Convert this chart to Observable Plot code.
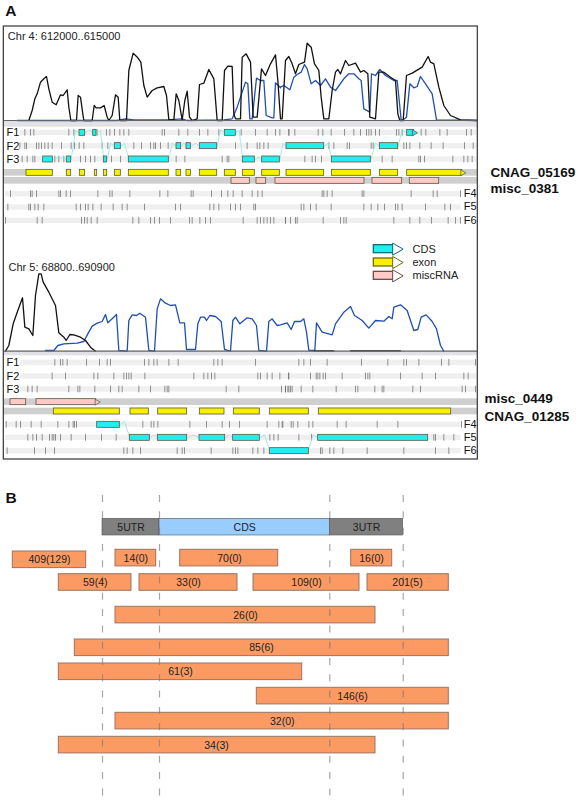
<!DOCTYPE html>
<html><head><meta charset="utf-8">
<script src="https://cdn.jsdelivr.net/npm/d3@7"></script>
<script src="https://cdn.jsdelivr.net/npm/@observablehq/plot@0.6"></script>
<style>html,body{margin:0;padding:0;background:#fff}svg{display:block}</style>
</head><body><div id="c"></div>
<script>
// Panel A positions are read in 1/3-pixel units; right = second half of the image (offset 840)
const R = a => a.map(v => v + 840);
const RP = a => a.map(([x, y]) => [x + 840, y]);
const LOW = a => a.map(([x, y]) => [x, y + 705]);

const chr4Black = [[85,360],[95,330],[103,295],[110,280],[120,245],[130,235],[138,228],[145,265],[155,305],[167,313],[180,283],[188,285],[200,268],[205,320],[211,360],[228,360],[233,285],[240,290],[247,340],[250,360],[275,360],[281,315],[287,322],[300,322],[311,315],[320,350],[325,360],[335,345],[345,283],[353,290],[358,360],[378,360],[385,210],[398,158],[412,172],[421,185],[430,255],[440,290],[455,270],[470,262],[490,258],[498,285],[505,358],[520,358],[527,280],[535,300],[545,358],[553,300],[560,272],[567,350],[575,360],[590,355],[597,252],[610,248],[625,207],[640,235],[650,360],[665,360],[672,210],[682,197],[695,198],[700,340],[705,355],[720,355],[725,170],[737,160],[750,185],[758,350],[770,350],[783,205],[795,225],[810,190],[825,163],[832,240],[840,355],
...RP([[5,355],[15,180],[25,168],[35,190],[45,220],[55,192],[72,185],[80,128],[92,140],[102,190],[115,210],[122,290],[130,355],[145,355],[155,270],[165,215],[172,207],[180,220],[195,180],[205,195],[225,188],[240,215],[250,210],[262,220],[268,350],[285,355],[295,215],[310,215],[330,230],[345,240],[352,340],[358,360],[368,360],[378,225],[395,218],[425,200],[443,168],[450,185],[460,190],[475,260],[490,315],[510,345],[540,358],[590,360]])];
const chr4Blue = [[50,360],[350,360],[375,355],[400,358],[420,358],[500,358],[545,355],[560,360],[670,358],[695,355],[710,320],[735,245],[742,250],[748,355],[755,355],[768,233],[780,240],[790,240],[797,345],[815,352],[820,352],[825,247],[840,262],
...RP([[0,260],[10,255],[28,268],[40,230],[50,222],[62,215],[72,192],[80,205],[92,250],[105,240],[120,255],[135,235],[150,260],[165,270],[190,235],[205,220],[220,220],[235,235],[242,240],[250,325],[268,335],[273,220],[285,225],[298,207],[315,225],[340,240],[350,240],[362,358],[368,358],[378,350],[388,250],[400,262],[410,258],[420,228],[435,250],[455,280],[468,358],[590,360]])];
const chr5Black = LOW([[15,347],[25,330],[38,265],[52,225],[66,187],[73,275],[85,280],[97,300],[105,180],[115,115],[122,115],[128,140],[145,170],[165,210],[175,292],[190,305],[197,315],[208,297],[220,298],[240,305],[255,315],[270,335],[285,347]]);
const chr5Blue = LOW([[135,345],[160,345],[172,330],[190,325],[230,323],[250,318],[262,295],[275,272],[290,263],[305,258],[315,237],[322,262],[335,250],[348,237],[355,345],[380,347],[385,255],[395,238],[408,240],[418,233],[435,245],[445,345],[462,347],[470,220],[480,190],[495,203],[510,210],[525,208],[538,262],[552,262],[558,342],[585,342],[592,265],[600,245],[612,245],[618,255],[628,240],[645,243],[662,258],[672,342],[690,347],[697,255],[705,245],[718,265],[740,247],[755,250],[768,270],[775,345],[798,347],[805,258],[815,250],[830,270],
...RP([[0,268],[20,262],[32,282],[42,258],[60,258],[70,250],[78,290],[85,345],[103,345],[108,262],[125,290],[155,298],[165,265],[190,230],[210,213],[222,240],[245,255],[265,278],[285,255],[310,257],[325,243],[335,250],[340,215],[360,208],[380,225],[395,270],[400,285],[412,282],[422,245],[437,238],[455,258],[468,280],[480,330],[490,347]])]);
const chr5BlackTail = LOW(RP([[100,346],[160,346]]));
const chr5BlackTail2 = LOW(RP([[210,346],[360,346]]));

// Reading-frame ticks, one list per row
const a1 = [73,90,100,205,220,290,318,328,342,358,370,385,485,492,535,562,597,622,655,722,765,800,825,838,865,...R([25,43,113,127,152,192,220,240,258,265,272,285,297,348,355,365,422,436,478,500,558,572])];
const a2 = [58,73,78,108,115,123,133,143,155,183,212,222,236,250,305,322,400,423,450,460,465,480,503,705,740,770,778,790,803,...R([145,160,200,207,272,278,370,378,388,418,452,488,552,578])];
const a3 = [65,80,97,103,163,175,190,240,255,270,283,333,360,527,553,665,680,685,...R([73,95,105,123,305,335,415,420,432,517,550,562,575])];
const a4 = [30,90,95,108,175,180,197,210,292,328,335,388,478,502,572,578,633,663,682,698,725,755,772,785,...R([125,130,140,155,245,250,392,458,470,540])];
const a5 = [22,85,90,103,113,130,227,240,255,263,277,302,338,365,380,432,525,540,628,640,655,690,705,720,760,765,...R([62,70,90,107,152,250,272,292,312,345,352,365,435,493,510])];
const a6 = [15,110,125,243,252,260,272,290,397,415,450,462,477,510,567,575,598,615,630,728,770,780,790,800,810,820,855,...R([15,30,45,50,128,180,190,197,340,388,418,453,503,525,540])];
const b1 = [163,180,187,200,258,297,320,330,432,445,460,470,505,533,640,652,665,765,...R([55,70,90,140,243,322,370,378,415,483,505,585])];
const b2 = [155,195,280,292,340,370,378,385,392,433,580,610,622,633,643,772,780,800,815,838,865,...R([24,90,107,112,118,128,135,185,255,262,268,360,425,465,550,563])];
const b3 = [82,95,110,205,232,238,283,330,355,365,415,450,493,500,505,677,715,843,855,865,...R([15,22,30,35,62,97,167,225,232,283,305,310,397,420,545,555,585])];
const b4 = [17,47,60,92,122,172,205,218,222,228,427,452,460,472,568,618,665,687,717,800,835,847,...R([5,32,38,52,85,97,170,197,290,352,543])];
const b5 = [82,97,108,125,147,155,160,165,180,212,255,303,347,808,820,833,...R([55,93,460,465,490,520])];
const b6 = [20,102,135,162,370,380,397,420,530,545,552,632,697,705,712,757,772,790,...R([120,125,148,160,187,260,370,465,505])];

// Row centres
const rowsA = [["F1",397,a1,60,1430],["F2",437,a2,60,1430],["F3",477,a3,60,1430],["F4",581,a4,15,1382],["F5",621,a5,15,1382],["F6",661,a6,15,1382]];
const rowsB = [["F1",1087,b1,60,1430],["F2",1128,b2,60,1430],["F3",1167,b3,60,1430],["F4",1273,b4,15,1382],["F5",1312,b5,15,1382],["F6",1352,b6,15,1382]];

// Features
const exonA = [[78,157],[199,212],[238,254],[283,290],[310,320],[343,361],[385,505],[528,542],[558,571],[598,650],[673,706],[727,763],[785,838],[858,971],[994,1111],[1138,1193],[1220,1385]];
const miscA = [[693,748],[768,797],[825,1092],[1116,1205],[1228,1316]];
const cdsA = [[237,254,397],[278,288,397],[673,706,397],[1220,1240,397],[343,361,437],[528,542,437],[558,571,437],[598,650,437],[858,971,437],[1138,1193,437],[128,157,477],[199,212,477],[310,320,477],[385,505,477],[727,763,477],[785,838,477],[994,1111,477]];
const linksA = [[[157,477],[175,470],[199,477]],[[212,477],[225,390],[237,397]],[[254,397],[265,388],[278,397]],[[288,397],[300,390],[310,477]],[[320,477],[330,428],[343,437]],[[361,437],[372,428],[385,477]],[[505,477],[515,428],[528,437]],[[542,437],[550,428],[558,437]],[[571,437],[585,428],[598,437]],[[650,437],[660,388],[673,397]],[[706,397],[716,390],[727,477]],[[763,477],[775,470],[785,477]],[[838,477],[848,428],[858,437]],[[971,437],[983,428],[994,477]],[[1111,477],[1125,428],[1138,437]],[[1193,437],[1205,388],[1220,397]]];
const miscB = [[30,77],[108,287]];
const exonB = [[160,358],[390,445],[473,560],[598,672],[700,778],[808,925],[955,1352]];
const cdsB = [[290,358,1273],[388,448,1312],[472,560,1312],[597,674,1312],[698,778,1312],[953,1283,1312],[808,925,1352]];
const linksB = [[[358,1273],[372,1263],[388,1312]],[[448,1312],[460,1303],[472,1312]],[[560,1312],[578,1303],[597,1312]],[[674,1312],[686,1303],[698,1312]],[[778,1312],[792,1303],[808,1352]],[[925,1345],[938,1303],[953,1312]]];

// Legend
const legendNames = ["CDS","exon","miscRNA"];
const legendFill = ["#22eef0","#f7f000","#ffc9c5"];
const legendStroke = ["#0a6e72","#6f6c10","#6b4a48"];
const legendRows = [746,786,826];

const labelsA = [["CNAG_05169",516],["misc_0381",566]];
const labelsB = [["misc_0449",1195],["CNAG_01285",1248]];

const font = "'Liberation Sans', Arial, sans-serif";
const grey = "#cfcfcf";
const hw = 10;
const tickMarks = rows => Plot.ruleX(rows.flatMap(([n,y,ticks]) => ticks.map(x => ({x,y}))), {x:"x", y1:d=>d.y-hw, y2:d=>d.y+hw, stroke:"#666", strokeWidth:0.9, strokeOpacity:0.8});
const bandMarks = rows => Plot.rect(rows, {x1:d=>d[3], x2:d=>d[4], y1:d=>d[1]-hw+2, y2:d=>d[1]+hw-2, fill:"#efefef"});
const features = (list, y, fill) => Plot.rect(list, {x1:d=>d[0], x2:d=>d[1], y1:d=>(d[2]??y)-9, y2:d=>(d[2]??y)+9, fill, stroke:"#5a5a40", strokeWidth:0.8});
const links = list => Plot.line(list.flatMap((pts,i)=>pts.map(p=>({x:p[0],y:p[1],i}))), {x:"x", y:"y", z:"i", stroke:"#8fe6e6", strokeWidth:0.8});
const trace = (pts, stroke) => Plot.line(pts, {x:d=>d[0], y:d=>d[1], stroke, strokeWidth:1.3});

const panelA = Plot.plot({
  width:579, height:485, margin:0,
  x:{domain:[0,1737], range:[0,579], axis:null},
  y:{domain:[0,1455], range:[0,485], axis:null},
  style:{fontFamily:font, background:"#fff"},
  marks:[
    Plot.rect([[360,380],[1052,1066]], {x1:10, x2:1432, y1:d=>d[0], y2:d=>d[1], fill:"#e2e2e6"}),
    bandMarks(rowsA), bandMarks(rowsB),
    // feature rows
    Plot.rect([[507,527],[531,551],[1195,1215],[1223,1243]], {x1:10, x2:1432, y1:d=>d[0], y2:d=>d[1], fill:grey}),
    Plot.rect([[78,1385,507,527],[160,1352,1223,1243]], {x1:d=>d[0], x2:d=>d[1], y1:d=>d[2], y2:d=>d[3], fill:"#fff"}),
    tickMarks(rowsA), tickMarks(rowsB),
    links(linksA), links(linksB),
    features(cdsA, 0, "#22eef0"), features(cdsB, 0, "#22eef0"),
    features(exonA, 517, "#f7f000"), features(exonB, 1233, "#f7f000"),
    features(miscA, 541, "#ffc9c5"), features(miscB, 1205, "#ffc9c5"),
    Plot.dot([[1386,517],[289,1205],[1241,397]], {x:d=>d[0], y:d=>d[1], symbol:"triangle", rotate:90, r:2.2, fill:d=>d[0]===1241?"#22eef0":d[0]===289?"#ffc9c5":"#f7f000", stroke:"#555", strokeWidth:0.7}),
    // coverage traces
    trace(chr4Blue, "#1f4fb0"), trace(chr4Black, "#111"),
    trace(chr5Blue, "#1f4fb0"), trace(chr5Black, "#111"),
    trace(chr5BlackTail, "#111"), trace(chr5BlackTail2, "#111"),
    Plot.ruleY([360,1052], {x1:10, x2:1432, stroke:"#666", strokeWidth:1.1}),
    // frame
    Plot.rect([[10,1432,78,1377]], {x1:d=>d[0], x2:d=>d[1], y1:d=>d[2], y2:d=>d[3], fill:"none", stroke:"#444", strokeWidth:1.3}),
    // legend
    Plot.rect(legendNames, {x1:1120, x2:1180, y1:(d,i)=>legendRows[i]-12, y2:(d,i)=>legendRows[i]+12, fill:(d,i)=>legendFill[i], stroke:(d,i)=>legendStroke[i], strokeWidth:1.3}),
    Plot.dot(legendNames, {x:1187, y:(d,i)=>legendRows[i], symbol:"triangle", rotate:90, r:4.5, fill:"#fff", stroke:(d,i)=>legendStroke[i], strokeWidth:1}),
    Plot.text(legendNames, {x:1236, y:(d,i)=>legendRows[i], text:d=>d, textAnchor:"start", fontSize:11, fill:"#222"}),
    // texts
    Plot.text(["A"], {x:14, y:31, text:d=>d, textAnchor:"start", fontSize:15.5, fontWeight:"bold", fill:"#111"}),
    Plot.text(["Chr 4: 612000..615000"], {x:22, y:107, text:d=>d, textAnchor:"start", fontSize:11, fill:"#222"}),
    Plot.text(["Chr 5: 68800..690900"], {x:24, y:800, text:d=>d, textAnchor:"start", fontSize:11, fill:"#222"}),
    Plot.text([...rowsA.slice(0,3), ...rowsB.slice(0,3)], {x:18, y:d=>d[1], text:d=>d[0], textAnchor:"start", fontSize:11, fill:"#111"}),
    Plot.text([...rowsA.slice(3), ...rowsB.slice(3)], {x:1390, y:d=>d[1]-2, text:d=>d[0], textAnchor:"start", fontSize:11, fill:"#111"}),
    Plot.text(labelsA, {x:1470, y:d=>d[1], text:d=>d[0], textAnchor:"start", fontSize:13.5, fontWeight:"bold", fill:"#111"}),
    Plot.text(labelsB, {x:1452, y:d=>d[1], text:d=>d[0], textAnchor:"start", fontSize:13.5, fontWeight:"bold", fill:"#111"})
  ]
});

// Panel B, in picture pixels
const gene = [["5UTR",102,159,"#808080"],["CDS",159,329.3,"#99ccff"],["3UTR",329.3,402.7,"#808080"]];
const boundaries = [102,159,329.3,402.7];
const reads = [
  ["409(129)",12.3,85.7,551,49],["14(0)",115,155.7,549.3,135.3],["70(0)",179.7,277.7,549.3,229],["16(0)",350.7,391.7,549.3,371],
  ["59(4)",58.3,131,573.7,94.7],["33(0)",139,237,573.7,188],["109(0)",253,359,573.7,306],["201(5)",367,448.3,573.7,407],
  ["26(0)",115,375,606.3,245],["85(6)",74.3,448.3,639,261],["61(3)",58.3,301.7,663,180],
  ["146(6)",256.3,448.3,687.3,352],["32(0)",115,448.3,712.3,281.7],["34(3)",58.3,375,736.3,216]
];
const readH = 16.6;
const panelB = Plot.plot({
  width:579, height:315, margin:0,
  x:{domain:[0,579], range:[0,579], axis:null},
  y:{domain:[485,800], range:[0,315], axis:null},
  style:{fontFamily:font, background:"#fff"},
  marks:[
    Plot.rect(gene, {x1:d=>d[1], x2:d=>d[2], y1:518.3, y2:535, fill:d=>d[3], stroke:"#555", strokeWidth:0.6}),
    Plot.rect(reads, {x1:d=>d[1], x2:d=>d[2], y1:d=>d[3], y2:d=>d[3]+readH, fill:"#fc9a63", stroke:"#9a7560", strokeWidth:1}),
    Plot.ruleX(boundaries, {y1:495, y2:797, stroke:"#777", strokeOpacity:0.65, strokeWidth:1.2, strokeDasharray:"7,9.3"}),
    Plot.text(gene, {x:d=>(d[1]+d[2])/2, y:527, text:d=>d[0], fontSize:10.5, fill:"#222"}),
    Plot.text(reads, {x:d=>d[4], y:d=>d[3]+readH/2+0.3, text:d=>d[0], fontSize:10.5, fill:"#222"}),
    Plot.text(["B"], {x:5, y:498, text:d=>d, textAnchor:"start", fontSize:15.5, fontWeight:"bold", fill:"#111"})
  ]
});
document.getElementById("c").append(panelA, panelB);
</script></body></html>
